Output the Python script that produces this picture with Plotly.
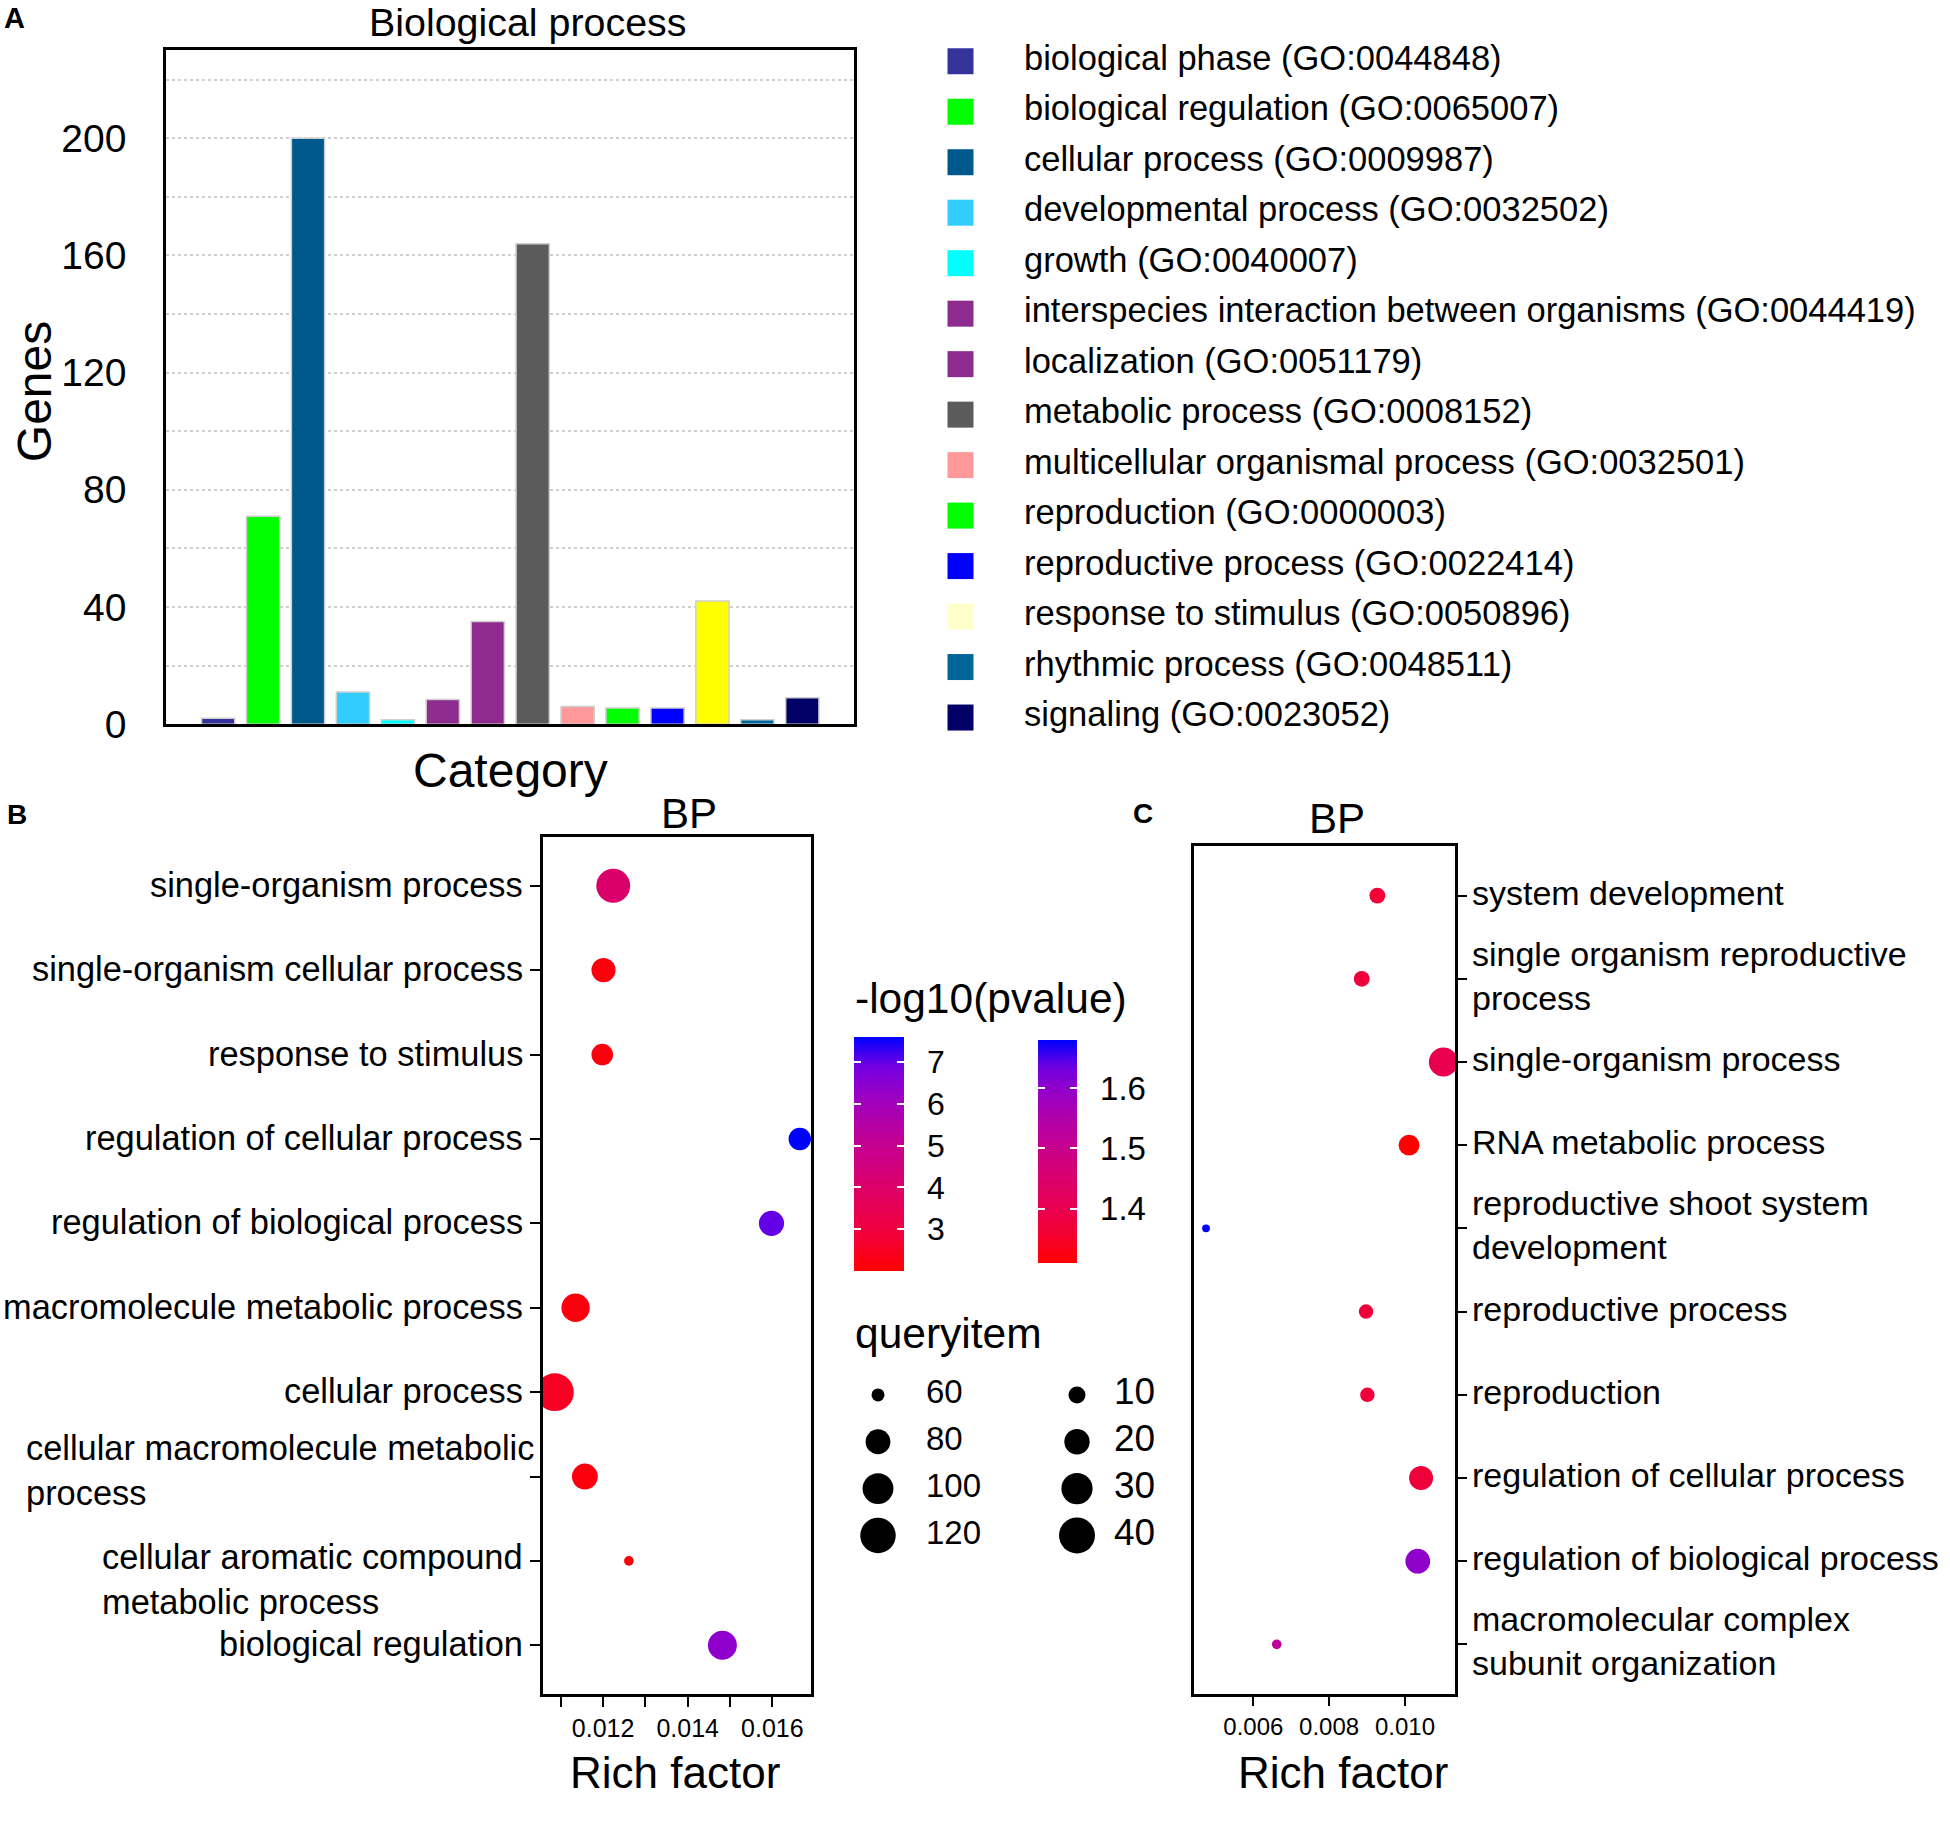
import numpy as np
import plotly.graph_objects as go

W, H = 1950, 1822
FONT = "Liberation Sans, Arial, sans-serif"

# ---------------- data ----------------
go_terms = ["biological phase (GO:0044848)", "biological regulation (GO:0065007)",
            "cellular process (GO:0009987)", "developmental process (GO:0032502)",
            "growth (GO:0040007)", "interspecies interaction between organisms (GO:0044419)",
            "localization (GO:0051179)", "metabolic process (GO:0008152)",
            "multicellular organismal process (GO:0032501)", "reproduction (GO:0000003)",
            "reproductive process (GO:0022414)", "response to stimulus (GO:0050896)",
            "rhythmic process (GO:0048511)", "signaling (GO:0023052)"]
genes = [2, 71, 200, 11, 1.5, 8.4, 35, 164, 6, 5.5, 5.5, 42, 1.5, 9]

terms_b = ["single-organism process", "single-organism cellular process",
           "response to stimulus", "regulation of cellular process",
           "regulation of biological process", "macromolecule metabolic process",
           "cellular process", "cellular macromolecule metabolic<br>process",
           "cellular aromatic compound<br>metabolic process", "biological regulation"]
rich_b = [0.01224, 0.01201, 0.01198, 0.01665, 0.01598, 0.01135, 0.01086, 0.01157, 0.01261, 0.01482]
query_b = [113, 78, 72, 74, 81, 91, 132, 83, 59, 93]
logp_b = [4.1, 2.2, 2.2, 7.6, 7.0, 2.2, 2.5, 2.2, 2.2, 6.4]

terms_c = ["system development", "single organism reproductive<br>process",
           "single-organism process", "RNA metabolic process",
           "reproductive shoot system<br>development", "reproductive process",
           "reproduction", "regulation of cellular process",
           "regulation of biological process", "macromolecular complex<br>subunit organization"]
rich_c = [0.009272, 0.00886, 0.011013, 0.010108, 0.004752, 0.008974, 0.009008, 0.010425, 0.010338, 0.006617]
query_c = [9, 9, 26, 14, 5, 8, 8, 18, 19, 5.5]
logp_c = [1.365, 1.37, 1.40, 1.31, 1.68, 1.37, 1.37, 1.37, 1.60, 1.53]

size_breaks_b = [60, 80, 100, 120]
size_breaks_c = [10, 20, 30, 40]
cbar_ticks_b = [3, 4, 5, 6, 7]
cbar_ticks_c = [1.4, 1.5, 1.6]
xticks_b = [0.011, 0.012, 0.013, 0.014, 0.015, 0.016]
xtick_text_b = ["", "0.012", "", "0.014", "", "0.016"]
xticks_c = [0.006, 0.008, 0.010]
xtick_text_c = ["0.006", "0.008", "0.010"]

# ---------------- styles ----------------
bar_colors = ["#333399", "#00ff00", "#00598c", "#33ccff", "#00ffff", "#8e2b8e", "#8e2b8e",
              "#5b5b5b", "#ff9999", "#00ff00", "#0000ff", "#ffff00", "#006699", "#000066"]
legend_colors = list(bar_colors)
legend_colors[11] = "#ffffcc"

cscale = [[0, "rgb(255,0,0)"], [0.125, "rgb(244,0,49)"], [0.25, "rgb(232,0,80)"],
          [0.375, "rgb(218,0,108)"], [0.5, "rgb(202,0,137)"], [0.625, "rgb(181,0,165)"],
          [0.75, "rgb(154,0,195)"], [0.875, "rgb(115,0,225)"], [1, "rgb(0,0,255)"]]


def size_b(v):
    v = np.asarray(v, dtype=float)
    return 9.7 + 3.3 * np.sqrt(np.clip(v - 59, 0, None))


def size_c(v):
    v = np.asarray(v, dtype=float)
    return 5 + 5.21 * np.sqrt(np.clip(v - 4.7, 0, None))


def px(x):
    return x / W


def py(y):
    return 1 - y / H


fig = go.Figure()

# Panel A bars
short = [t.split(" (")[0] for t in go_terms]
fig.add_trace(go.Bar(x=short, y=genes, marker=dict(color=bar_colors, line=dict(color="#cfcfcf", width=1.5)),
                     xaxis="x", yaxis="y", showlegend=False))

# Panel B dots
fig.add_trace(go.Scatter(x=rich_b, y=terms_b, mode="markers", xaxis="x2", yaxis="y2",
                         marker=dict(size=size_b(query_b), color=logp_b, coloraxis="coloraxis",
                                     opacity=1, line=dict(width=0)), showlegend=False))
# Panel C dots
fig.add_trace(go.Scatter(x=rich_c, y=terms_c, mode="markers", xaxis="x3", yaxis="y3",
                         marker=dict(size=size_c(query_c), color=logp_c, coloraxis="coloraxis2",
                                     opacity=1, line=dict(width=0)), showlegend=False))

# Overlay (pixel) axis for custom legends
n = len(go_terms)
leg_y = [62 + i * 51.1 for i in range(n)]
fig.add_trace(go.Scatter(x=[960.5] * n, y=leg_y, mode="markers", xaxis="x4", yaxis="y4",
                         marker=dict(symbol="square", size=26, color=legend_colors, opacity=1,
                                     line=dict(width=0)),
                         showlegend=False, hoverinfo="skip"))
fig.add_trace(go.Scatter(x=[1024] * n, y=leg_y, mode="text", text=go_terms, textposition="middle right",
                         textfont=dict(size=34.5, family=FONT, color="black"),
                         xaxis="x4", yaxis="y4", showlegend=False, hoverinfo="skip"))

row_y = [1412 + i * 47.4 for i in range(4)]
fig.add_trace(go.Scatter(x=[878] * 4, y=row_y, mode="markers", xaxis="x4", yaxis="y4",
                         marker=dict(size=size_b(size_breaks_b), color="#000000", opacity=1,
                                     line=dict(width=0)),
                         showlegend=False, hoverinfo="skip"))
fig.add_trace(go.Scatter(x=[926] * 4, y=row_y, mode="text", text=[str(v) for v in size_breaks_b],
                         textposition="middle right", textfont=dict(size=33, family=FONT, color="black"),
                         xaxis="x4", yaxis="y4", showlegend=False, hoverinfo="skip"))
fig.add_trace(go.Scatter(x=[1077] * 4, y=row_y, mode="markers", xaxis="x4", yaxis="y4",
                         marker=dict(size=size_c(size_breaks_c), color="#000000", opacity=1,
                                     line=dict(width=0)),
                         showlegend=False, hoverinfo="skip"))
fig.add_trace(go.Scatter(x=[1114] * 4, y=row_y, mode="text", text=[str(v) for v in size_breaks_c],
                         textposition="middle right", textfont=dict(size=37, family=FONT, color="black"),
                         xaxis="x4", yaxis="y4", showlegend=False, hoverinfo="skip"))

# empty traces that only carry the extra colour-bar layers (white tick marks inside the bars)
for k in range(3, 7):
    fig.add_trace(go.Scatter(x=[None], y=[None], mode="markers", xaxis="x4", yaxis="y4",
                             marker=dict(color=[0], coloraxis=f"coloraxis{k}"),
                             showlegend=False, hoverinfo="skip"))

box = dict(showline=True, mirror=True, linecolor="black", linewidth=2.5, zeroline=False)

cb_b = dict(x=px(854), xanchor="left", y=py(1168), yanchor="middle", len=234, lenmode="pixels",
            thicknessmode="pixels", xpad=0, ypad=0, outlinewidth=0, tickmode="array", tickvals=cbar_ticks_b)
cb_c = dict(x=px(1038), xanchor="left", y=py(1165.5), yanchor="middle", len=223, lenmode="pixels",
            thicknessmode="pixels", xpad=0, ypad=0, outlinewidth=0, tickmode="array", tickvals=cbar_ticks_c)
marks = dict(ticks="inside", ticklen=7, tickwidth=2, tickcolor="white", showticklabels=False)

layout = dict(
    width=W, height=H, margin=dict(l=0, r=0, t=0, b=0),
    paper_bgcolor="white", plot_bgcolor="rgba(0,0,0,0)",
    font=dict(family=FONT, color="black"),
    bargap=0.26,
    xaxis=dict(domain=[px(166), px(854)], range=[-1.16, 14.15], showticklabels=False, ticks="",
               showgrid=False, anchor="y", **box),
    yaxis=dict(domain=[py(733), py(51)], range=[0, 230], tick0=0, dtick=40, ticks="",
               showgrid=True, gridcolor="#cfcfcf", griddash="dot", gridwidth=1.5,
               minor=dict(dtick=20, showgrid=True, gridcolor="#cfcfcf", griddash="dot", gridwidth=1.5),
               tickfont=dict(size=39), ticklabelstandoff=29, anchor="x", **box),
    xaxis2=dict(domain=[px(543), px(811)], range=[0.01058, 0.016914], tickmode="array",
                tickvals=xticks_b, ticktext=xtick_text_b, ticks="outside", ticklen=10, tickwidth=2,
                tickcolor="black", tickfont=dict(size=25), showgrid=False, anchor="y2", **box),
    yaxis2=dict(domain=[py(1715), py(847)], type="category", categoryorder="array",
                categoryarray=terms_b, range=[9.58, -0.58], ticks="outside", ticklen=10, tickwidth=2,
                tickcolor="black", showticklabels=False, showgrid=False, anchor="x2", **box),
    xaxis3=dict(domain=[px(1194), px(1455)], range=[0.004435, 0.01132], tickmode="array",
                tickvals=xticks_c, ticktext=xtick_text_c, ticks="outside", ticklen=9, tickwidth=2,
                tickcolor="black", tickfont=dict(size=24), showgrid=False, anchor="y3", **box),
    yaxis3=dict(domain=[py(1715), py(856)], type="category", categoryorder="array",
                categoryarray=terms_c, range=[9.6, -0.6], side="right", ticks="outside", ticklen=9,
                tickwidth=2, tickcolor="black", showticklabels=False, showgrid=False, anchor="x3", **box),
    xaxis4=dict(domain=[0, 1], range=[0, W], visible=False, fixedrange=True, anchor="y4"),
    yaxis4=dict(domain=[0, 1], range=[H, 0], visible=False, fixedrange=True, anchor="x4"),
    coloraxis=dict(colorscale=cscale, cmin=2.0, cmax=7.6,
                   colorbar=dict(**cb_b, thickness=50, ticks="outside", ticklen=17, tickwidth=1,
                                 tickcolor="white", tickfont=dict(size=32))),
    coloraxis2=dict(colorscale=cscale, cmin=1.31, cmax=1.68,
                    colorbar=dict(**cb_c, thickness=39, ticks="outside", ticklen=17, tickwidth=1,
                                  tickcolor="white", tickfont=dict(size=33))),
    coloraxis3=dict(colorscale=cscale, cmin=2.0, cmax=7.6, colorbar=dict(**cb_b, thickness=50, **marks)),
    coloraxis4=dict(colorscale=cscale, cmin=2.0, cmax=7.6, colorbar=dict(**cb_b, thickness=7, **marks)),
    coloraxis5=dict(colorscale=cscale, cmin=1.31, cmax=1.68, colorbar=dict(**cb_c, thickness=39, **marks)),
    coloraxis6=dict(colorscale=cscale, cmin=1.31, cmax=1.68, colorbar=dict(**cb_c, thickness=7, **marks)),
)
fig.update_layout(**layout)

ann = []


def add_text(text, x, y, size, xanchor="center", yanchor="middle", bold=False, textangle=0,
             top=False, yshift=0):
    t = f"<b>{text}</b>" if bold else text
    ann.append(dict(text=t, x=px(x), y=1 if top else py(y), xref="paper", yref="paper",
                    xanchor=xanchor, yanchor=yanchor, showarrow=False, yshift=yshift,
                    font=dict(size=size, family=FONT, color="black"), textangle=textangle))


add_text("A", 2, 18, 29, xanchor="left", bold=True)
add_text("Biological process", 527, 0, 39.4, yanchor="top", top=True, yshift=2)
add_text("Genes", 34, 397, 48, textangle=-90)
add_text("Category", 510, 780, 48)
add_text("B", 5, 824, 28, xanchor="left", bold=True)
add_text("BP", 689, 823, 42)
add_text("C", 1131, 823, 28, xanchor="left", bold=True)
add_text("BP", 1337, 828, 42)
add_text("-log10(pvalue)", 853, 1011, 42.5, xanchor="left")
add_text("queryitem", 853, 1350, 42.5, xanchor="left")
add_text("Rich factor", 675, 1794, 44)
add_text("Rich factor", 1343, 1794, 44)

yshift_b = {7: 6, 8: -19}
xshift_b = {7: 11}
for i, t in enumerate(terms_b):
    ann.append(dict(text=t, x=px(525), xref="paper", y=i, yref="y2", xanchor="right", yanchor="middle",
                    align="left", showarrow=False, yshift=yshift_b.get(i, 1), xshift=xshift_b.get(i, 0),
                    font=dict(size=34.4, family=FONT, color="black")))
for i, t in enumerate(terms_c):
    ann.append(dict(text=t, x=px(1470), xref="paper", y=i, yref="y3", xanchor="left", yanchor="middle",
                    align="left", showarrow=False, yshift=3,
                    font=dict(size=34, family=FONT, color="black")))

fig.update_layout(annotations=ann)
fig.write_html("out.html", config={"displayModeBar": False},
               post_script="document.body.style.margin='0px'; document.body.style.overflow='hidden';")
